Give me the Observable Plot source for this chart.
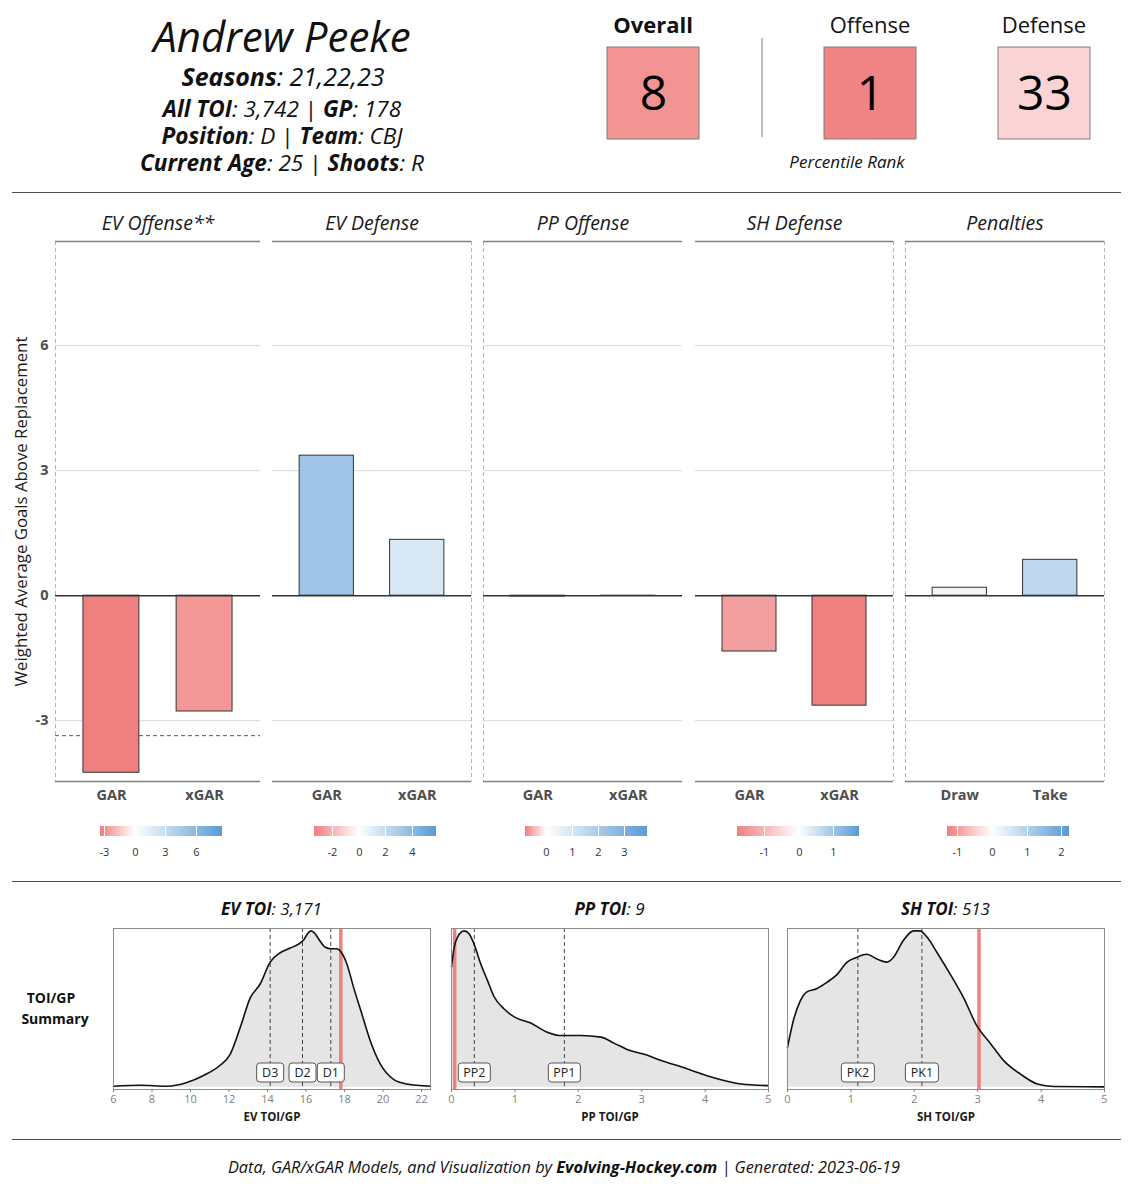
<!DOCTYPE html>
<html><head><meta charset="utf-8">
<script src="https://cdn.jsdelivr.net/npm/d3@7"></script>
<script src="https://cdn.jsdelivr.net/npm/@observablehq/plot@0.6"></script>
<style>
body{margin:0;background:#fff;font-family:"Open Sans",sans-serif;color:#111}
#root{position:relative;width:1129px;height:1200px;overflow:hidden;background:#fff}
svg{overflow:visible}
.hr{position:absolute;left:12px;width:1109px;height:0;border-top:1px solid #4d4d4d}
.t{position:absolute;white-space:nowrap;line-height:1;transform:translateX(-50%)}
svg.garpanel g[aria-label="y-axis tick label"] text,
svg.garpanel g[aria-label="x-axis tick label"] text{font-size:14.5px !important;font-weight:700 !important;fill:#4d4d4d !important}
svg.toiplot g[aria-label="x-axis tick label"] text{font-size:11px !important;font-weight:400 !important;fill:#808080 !important}
</style></head><body><div id="root"></div>
<script>
// ---------------- data ----------------
const playerName = "Andrew Peeke";
const seasons = "21,22,23";
const infoRows = [
  [["All TOI", "3,742"], ["GP", "178"]],
  [["Position", "D"], ["Team", "CBJ"]],
  [["Current Age", "25"], ["Shoots", "R"]]
];
const rankNames = ["Overall", "Offense", "Defense"];
const rankValues = [8, 1, 33];

const panels = ["EV Offense**", "EV Defense", "PP Offense", "SH Defense", "Penalties"];
const barCategories = [["GAR", "xGAR"], ["GAR", "xGAR"], ["GAR", "xGAR"], ["GAR", "xGAR"], ["Draw", "Take"]];
const barValues = [[-4.25, -2.78], [3.36, 1.34], [-0.02, -0.006], [-1.34, -2.64], [0.19, 0.86]];
const colorLimits = [[-3.39, 8.55], [-3.34, 5.8], [-0.81, 3.87], [-1.78, 1.75], [-1.29, 2.22]];
const legendTicks = [[-3, 0, 3, 6], [-2, 0, 2, 4], [0, 1, 2, 3], [-1, 0, 1], [-1, 0, 1, 2]];
const replacementLevel = -3.36;
const yTicks = [-3, 0, 3, 6];
const yDomain = [-4.46, 8.5];
const yTitle = "Weighted Average Goals Above Replacement";

const evTitle = ["EV TOI", "3,171"], ppTitle = ["PP TOI", "9"], shTitle = ["SH TOI", "513"];
const evX = [6.0, 7.39, 8.77, 9.81, 10.68, 11.54, 12.06, 12.58, 13.10, 13.62, 14.14, 14.66, 15.18, 15.61, 15.9, 16.1, 16.27, 16.45, 16.7, 17.0, 17.3, 17.6, 17.85, 18.12, 18.47, 18.90, 19.33, 19.85, 20.55, 21.24, 22.47];
const evY = [0.006, 0.012, 0.006, 0.03, 0.075, 0.14, 0.21, 0.38, 0.57, 0.66, 0.80, 0.86, 0.89, 0.915, 0.945, 0.985, 1.0, 0.985, 0.94, 0.895, 0.885, 0.885, 0.86, 0.79, 0.64, 0.47, 0.30, 0.15, 0.05, 0.02, 0.006];
const evMarkers = [{label: "D3", x: 14.14}, {label: "D2", x: 15.82}, {label: "D1", x: 17.29}];
const evPlayer = 17.81;
const evTicks = [6, 8, 10, 12, 14, 16, 18, 20, 22];

const ppX = [0, 0.04, 0.095, 0.2, 0.28, 0.36, 0.46, 0.57, 0.67, 0.83, 0.99, 1.25, 1.52, 1.73, 2.04, 2.36, 2.57, 2.78, 3.04, 3.31, 3.62, 3.94, 4.25, 4.57, 4.99];
const ppY = [0.77, 0.89, 0.96, 1.0, 0.98, 0.91, 0.79, 0.68, 0.58, 0.50, 0.45, 0.41, 0.35, 0.33, 0.33, 0.32, 0.28, 0.24, 0.21, 0.17, 0.13, 0.085, 0.047, 0.02, 0.01];
const ppMarkers = [{label: "PP2", x: 0.36}, {label: "PP1", x: 1.78}];
const ppPlayer = 0.05;
const ppTicks = [0, 1, 2, 3, 4, 5];

const shX = [0, 0.095, 0.2, 0.305, 0.46, 0.62, 0.78, 0.94, 1.09, 1.25, 1.41, 1.57, 1.67, 1.83, 1.99, 2.09, 2.2, 2.36, 2.57, 2.78, 2.99, 3.2, 3.41, 3.67, 3.94, 4.2, 5.0];
const shY = [0.255, 0.43, 0.55, 0.61, 0.63, 0.67, 0.72, 0.80, 0.83, 0.85, 0.82, 0.80, 0.83, 0.94, 1.0, 1.0, 0.96, 0.86, 0.72, 0.57, 0.39, 0.28, 0.17, 0.085, 0.02, 0.004, 0.002];
const shMarkers = [{label: "PK2", x: 1.11}, {label: "PK1", x: 2.12}];
const shPlayer = 3.02;
const shTicks = [0, 1, 2, 3, 4, 5];

const footerParts = ["Data, GAR/xGAR Models, and Visualization by ", "Evolving-Hockey.com", " | Generated: 2023-06-19"];

// ---------------- helpers ----------------
const RED = "#F08080", WHITE = "#ffffff", BLUE = "#5B9BD5";
const FONT = '"Open Sans", sans-serif';
const root = document.getElementById("root");
function place(el, left, top) { el.style.position = "absolute"; el.style.left = left + "px"; el.style.top = top + "px"; root.appendChild(el); return el; }
function addText(html, cx, baseline, size, style = "") {
  const d = document.createElement("div");
  d.className = "t"; d.innerHTML = html;
  d.style.cssText += `left:${cx}px;top:${baseline - 0.888 * size}px;font-size:${size}px;${style}`;
  root.appendChild(d); return d;
}
function addHr(y) { const d = document.createElement("div"); d.className = "hr"; d.style.top = y + "px"; root.appendChild(d); }
function divergingInterp([lo, hi]) {
  const t0 = -lo / (hi - lo);
  const neg = d3.interpolateRgb(RED, WHITE), pos = d3.interpolateRgb(WHITE, BLUE);
  return t => t <= t0 ? neg(t / t0) : pos((t - t0) / (1 - t0));
}
const baseStyle = {fontFamily: FONT, fontSize: "10px", color: "#111", background: "none", overflow: "visible"};

// ---------------- header ----------------
addText(`<i>${playerName}</i>`, 282, 52, 42);
addText(`<b><i>Seasons</i></b><i>: ${seasons}</i>`, 283, 86, 25);
infoRows.forEach((row, r) => {
  const html = row.map(([k, v]) => `<b><i>${k}</i></b><i>: ${v}</i>`).join(" | ");
  addText(html, 282, 118 + r * 27, 22.6);
});

const rankLeft = [607, 824, 998];
rankNames.forEach((name, i) => {
  addText(name, rankLeft[i] + 46, 33, 22, i === 0 ? "font-weight:700" : "");
  const chart = Plot.plot({
    width: 92, height: 92, margin: 0,
    x: {type: "band", domain: [name], axis: null, padding: 0},
    color: {type: "linear", domain: [0, 50, 100], range: [RED, WHITE, BLUE], interpolate: "rgb"},
    style: baseStyle,
    marks: [
      Plot.cell([{name, pct: rankValues[i]}], {x: "name", fill: "pct", stroke: "#7f7f7f", strokeWidth: 1}),
      Plot.text([{name, pct: rankValues[i]}], {x: "name", text: "pct", fontSize: 48, fill: "#000", dy: 1})
    ]
  });
  place(chart, rankLeft[i], 47);
});
const sep = document.createElement("div");
sep.style.cssText = "width:0;height:99px;border-left:2px solid #bdbdbd";
place(sep, 761, 38);
addText("<i>Percentile Rank</i>", 847, 168, 17);

addHr(192); addHr(881); addHr(1139);

// ---------------- GAR panels ----------------
const panelLeft = [55, 272, 483, 695, 905];
const panelWidth = [205, 199, 199, 198, 199];
const panelEdges = [["l"], ["r"], ["l"], ["r"], ["l", "r"]];
const xDom = [0.4, 2.6];

panels.forEach((name, p) => {
  const rows = barCategories[p].map((c, i) => ({cat: c, pos: i + 1, value: barValues[p][i]}));
  const ml = p === 0 ? 55 : 0;
  const colorOpts = {type: "linear", domain: colorLimits[p], clamp: true, interpolate: divergingInterp(colorLimits[p])};
  const edgeVals = panelEdges[p].map(e => e === "l" ? xDom[0] : xDom[1]);
  const marks = [
    Plot.ruleY(yTicks.filter(t => t !== 0), {stroke: "#d9d9d9", strokeWidth: 1}),
    Plot.ruleX(edgeVals, {stroke: "#b3b3b3", strokeWidth: 1, strokeDasharray: "4,3"}),
    p === 0 ? Plot.ruleY([replacementLevel], {stroke: "#555", strokeWidth: 1, strokeDasharray: "4,3"}) : null,
    Plot.rect(rows, {x1: d => d.pos - 0.3, x2: d => d.pos + 0.3, y1: 0, y2: "value", fill: "value", stroke: "#333", strokeWidth: 1}),
    Plot.ruleY([0], {stroke: "#333", strokeWidth: 1.5}),
    Plot.ruleY([yDomain[1]], {stroke: "#808080", strokeWidth: 1.5}),
    Plot.ruleY([yDomain[0]], {stroke: "#808080", strokeWidth: 1.5}),
    Plot.axisX({ticks: rows.map(d => d.pos), tickFormat: v => barCategories[p][v - 1], tickSize: 0, tickPadding: 8, fontSize: 14.5, fontWeight: "bold", label: null}),
    Plot.text([name], {text: d => d, frameAnchor: "top", lineAnchor: "middle", dy: -18, fontSize: 19.5, fontStyle: "italic", fill: "#1a1a1a"})
  ];
  if (p === 0) {
    marks.push(
      Plot.axisY({ticks: yTicks, tickFormat: d => String(d), tickSize: 0, tickPadding: 7, fontSize: 14.5, fontWeight: "bold", label: null}),
      Plot.text([yTitle], {text: d => d, frameAnchor: "left", textAnchor: "middle", lineAnchor: "middle", dx: -34, rotate: -90, fontSize: 16.8, fill: "#1a1a1a"})
    );
  }
  const chart = Plot.plot({
    className: "garpanel",
    width: panelWidth[p] + ml, height: 611,
    marginTop: 41, marginBottom: 30, marginLeft: ml, marginRight: 0,
    x: {domain: xDom},
    y: p === 0 ? {domain: yDomain} : {domain: yDomain, axis: null},
    color: colorOpts,
    style: baseStyle,
    marks
  });
  chart.classList.add("garpanel");
  place(chart, panelLeft[p] - ml, 200);

  const leg = Plot.legend({
    color: colorOpts, width: 122, height: 35, marginTop: 0, marginLeft: 0, marginRight: 0,
    tickSize: 9, ticks: legendTicks[p], tickFormat: d => String(d), label: null,
    style: {fontFamily: FONT, fontSize: "11px", color: "#333", background: "none", overflow: "visible"}
  });
  d3.select(leg).selectAll(".tick line").attr("stroke", "#fff");
  place(leg, panelLeft[p] + panelWidth[p] / 2 + 3.5 - 61, 826);
});

// ---------------- TOI density plots ----------------
function roundRect(w, h, r) {
  return {draw(ctx) {
    const x = -w / 2, y = -h / 2;
    ctx.moveTo(x + r, y);
    ctx.lineTo(x + w - r, y); ctx.arcTo(x + w, y, x + w, y + r, r);
    ctx.lineTo(x + w, y + h - r); ctx.arcTo(x + w, y + h, x + w - r, y + h, r);
    ctx.lineTo(x + r, y + h); ctx.arcTo(x, y + h, x, y + h - r, r);
    ctx.lineTo(x, y + r); ctx.arcTo(x, y, x + r, y, r);
    ctx.closePath();
  }};
}
function densityPlot(xs, ys, domain, ticks, markers, player, axisTitle, boxW) {
  const pts = xs.map((x, i) => ({x, y: ys[i]}));
  return Plot.plot({
    className: "toiplot",
    width: 317 + 24, height: 161 + 38, marginLeft: 12, marginRight: 12, marginTop: 0, marginBottom: 38,
    x: {domain},
    y: {domain: [-0.015, 1.015], axis: null},
    style: baseStyle,
    marks: [
      Plot.areaY(pts, {x: "x", y1: 0, y2: "y", fill: "#e5e5e5", curve: "monotone-x"}),
      Plot.ruleX(markers, {x: "x", stroke: "#444", strokeWidth: 1, strokeDasharray: "4,3"}),
      Plot.ruleX([player], {stroke: RED, strokeWidth: 3.5}),
      Plot.lineY(pts, {x: "x", y: "y", stroke: "#111", strokeWidth: 1.6, curve: "monotone-x"}),
      Plot.frame({stroke: "#8c8c8c"}),
      Plot.dot(markers, {x: "x", frameAnchor: "bottom", dy: -17, symbol: roundRect(boxW, 19, 3), fill: "#fff", stroke: "#555", strokeWidth: 1}),
      Plot.text(markers, {x: "x", text: "label", frameAnchor: "bottom", lineAnchor: "middle", dy: -17, fontSize: 12.5, fill: "#222"}),
      Plot.axisX({ticks, tickFormat: d => String(d), tickSize: 3, tickPadding: 3, fontSize: 11, color: "#808080", label: null}),
      Plot.text([axisTitle], {text: d => d, frameAnchor: "bottom", lineAnchor: "middle", dy: 28, fontWeight: "bold", fontSize: 11.5, fill: "#1a1a1a"})
    ]
  });
}
const dens = [
  {title: evTitle, chart: densityPlot(evX, evY, [6, 22.47], evTicks, evMarkers, evPlayer, "EV TOI/GP", 27), left: 113},
  {title: ppTitle, chart: densityPlot(ppX, ppY, [0, 5], ppTicks, ppMarkers, ppPlayer, "PP TOI/GP", 32), left: 451},
  {title: shTitle, chart: densityPlot(shX, shY, [0, 5], shTicks, shMarkers, shPlayer, "SH TOI/GP", 33), left: 787}
];
dens.forEach(d => {
  d.chart.classList.add("toiplot");
  place(d.chart, d.left - 12, 928);
  addText(`<b><i>${d.title[0]}</i></b><i>: ${d.title[1]}</i>`, d.left + 158.5, 915, 17);
});
addText("<b>TOI/GP</b>", 51, 1003, 14);
addText("<b>Summary</b>", 55, 1024, 14);

// ---------------- footer ----------------
addText(`<i>${footerParts[0]}</i><b><i>${footerParts[1]}</i></b><i>${footerParts[2]}</i>`, 564, 1173, 16.3);
</script></body></html>
